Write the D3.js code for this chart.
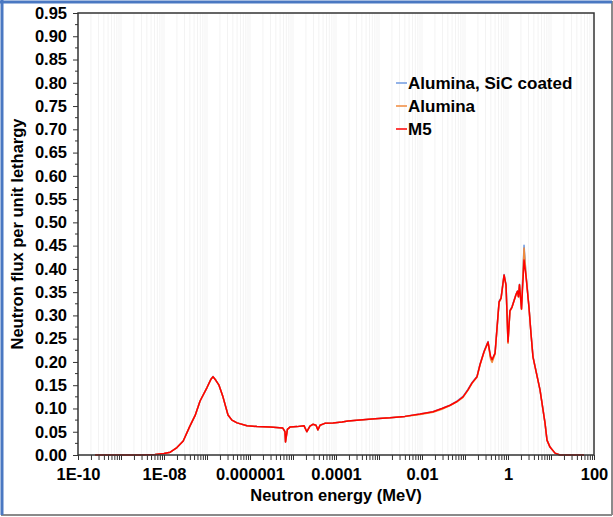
<!DOCTYPE html>
<html>
<head>
<meta charset="utf-8">
<script src="https://cdn.jsdelivr.net/npm/d3@7"></script>
<style>
  body { margin: 0; background: #fff; }
  text { font-family: "Liberation Sans", Arial, sans-serif; font-weight: bold; fill: #000; }
</style>
</head>
<body>
<svg id="chart"></svg>
<script>
// energies in MeV
const energy = [2.5e-10, 2.8e-9, 6.2e-9, 1e-8, 1.4e-8, 2.0e-8, 2.8e-8, 4.0e-8, 5.3e-8, 6.9e-8,
  1.0e-7, 1.24e-7, 1.38e-7, 1.62e-7, 1.9e-7, 2.35e-7, 3.08e-7, 3.8e-7, 5.0e-7, 8.5e-7,
  1.46e-6, 2.9e-6, 5.8e-6, 6.5e-6, 6.7e-6, 7.4e-6, 8.5e-6, 1.24e-5, 1.8e-5, 2.1e-5,
  2.48e-5, 2.9e-5, 3.43e-5, 3.8e-5, 4.25e-5, 5.5e-5, 8.5e-5, 1.38e-4, 1.9e-4, 3.6e-4,
  8.1e-4, 1.8e-3, 4.0e-3, 8.98e-3, 1.8e-2, 2.9e-2, 4.5e-2, 6.5e-2, 9.0e-2, 0.117,
  0.146, 0.19, 0.223, 0.277, 0.343, 0.393, 0.427, 0.50, 0.62, 0.69,
  0.81, 0.90, 1.0, 1.11, 1.24, 1.54, 1.66, 1.75, 1.85, 2.06,
  2.36, 2.62, 3.08, 3.43, 3.81, 4.25, 5.55, 7.25, 8.07, 9.48,
  12.4, 16.2, 58.5];

const aluminaSiC = [0, 0, 0.001, 0.003, 0.006, 0.016, 0.030, 0.062, 0.085, 0.116,
  0.145, 0.164, 0.169, 0.160, 0.150, 0.125, 0.086, 0.075, 0.069, 0.063,
  0.061, 0.060, 0.058, 0.050, 0.028, 0.055, 0.060, 0.061, 0.063, 0.050,
  0.062, 0.066, 0.064, 0.054, 0.064, 0.068, 0.069, 0.071, 0.073, 0.075,
  0.078, 0.080, 0.083, 0.088, 0.093, 0.100, 0.107, 0.116, 0.126, 0.141,
  0.156, 0.169, 0.195, 0.223, 0.244, 0.210, 0.203, 0.219, 0.330, 0.338,
  0.388, 0.366, 0.244, 0.311, 0.319, 0.346, 0.353, 0.341, 0.367, 0.315,
  0.451, 0.388, 0.318, 0.261, 0.212, 0.191, 0.140, 0.069, 0.032, 0.017,
  0.004, 0, 0];

const alumina = [0, 0, 0.001, 0.003, 0.006, 0.016, 0.030, 0.062, 0.085, 0.116,
  0.145, 0.163, 0.168, 0.160, 0.150, 0.125, 0.086, 0.075, 0.069, 0.063,
  0.061, 0.060, 0.058, 0.050, 0.028, 0.055, 0.060, 0.061, 0.063, 0.050,
  0.062, 0.066, 0.064, 0.054, 0.064, 0.068, 0.069, 0.071, 0.073, 0.075,
  0.078, 0.080, 0.083, 0.087, 0.092, 0.098, 0.106, 0.114, 0.124, 0.139,
  0.154, 0.167, 0.193, 0.221, 0.242, 0.206, 0.199, 0.217, 0.328, 0.336,
  0.386, 0.364, 0.240, 0.309, 0.317, 0.345, 0.352, 0.340, 0.366, 0.313,
  0.445, 0.387, 0.317, 0.260, 0.211, 0.190, 0.140, 0.069, 0.032, 0.017,
  0.004, 0, 0];

const m5 = [0, 0, 0.001, 0.003, 0.006, 0.016, 0.030, 0.062, 0.085, 0.116,
  0.145, 0.163, 0.168, 0.160, 0.150, 0.125, 0.086, 0.075, 0.069, 0.063,
  0.061, 0.060, 0.058, 0.050, 0.028, 0.055, 0.060, 0.061, 0.063, 0.050,
  0.062, 0.066, 0.064, 0.054, 0.064, 0.068, 0.069, 0.071, 0.073, 0.075,
  0.078, 0.080, 0.083, 0.088, 0.093, 0.100, 0.107, 0.115, 0.125, 0.140,
  0.155, 0.168, 0.194, 0.222, 0.243, 0.212, 0.205, 0.219, 0.329, 0.337,
  0.387, 0.365, 0.243, 0.310, 0.318, 0.345, 0.352, 0.340, 0.366, 0.314,
  0.419, 0.385, 0.316, 0.260, 0.211, 0.190, 0.140, 0.069, 0.032, 0.017,
  0.004, 0, 0];

const seriesNames = ["Alumina, SiC coated", "Alumina", "M5"];
const seriesColors = ["#6f9ae0", "#f08a3c", "#ff0000"];
const yTicks = [0, 0.05, 0.10, 0.15, 0.20, 0.25, 0.30, 0.35, 0.40, 0.45, 0.50, 0.55, 0.60, 0.65, 0.70, 0.75, 0.80, 0.85, 0.90, 0.95];
const xLabels = {"-10": "1E-10", "-8": "1E-08", "-6": "0.000001", "-4": "0.0001", "-2": "0.01", "0": "1", "2": "100"};

const W = 613, H = 517;
const margin = { top: 13, right: 19, bottom: 62, left: 78 };
const width = W - margin.left - margin.right;
const height = H - margin.top - margin.bottom;

const svg = d3.select("#chart").attr("width", W).attr("height", H);

// outer frame
svg.append("line").attr("x1", 612).attr("y1", 1).attr("x2", 612).attr("y2", 515)
  .attr("stroke", "#8a8a8a").attr("stroke-width", 2);
svg.append("line").attr("x1", 1).attr("y1", 515).attr("x2", 612).attr("y2", 515)
  .attr("stroke", "#8a8a8a").attr("stroke-width", 2);
svg.append("line").attr("x1", 2).attr("y1", 0).attr("x2", 2).attr("y2", 515)
  .attr("stroke", "#4a78c2").attr("stroke-width", 3);
svg.append("line").attr("x1", 0).attr("y1", 2).attr("x2", 612).attr("y2", 2)
  .attr("stroke", "#4a78c2").attr("stroke-width", 3);

const g = svg.append("g").attr("transform", `translate(${margin.left},${margin.top})`);

const x = d3.scaleLog().domain([1e-10, 100]).range([0, width]);
const y = d3.scaleLinear().domain([0, 0.95]).range([height, 0]);

// all log ticks
const logTicks = [];
for (let p = -10; p < 2; p++) {
  for (let k = 1; k <= 9; k++) logTicks.push(k * Math.pow(10, p));
}
logTicks.push(100);

// vertical gridlines (very faint)
g.append("g").selectAll("line").data(logTicks.slice(1, -1)).enter().append("line")
  .attr("x1", d => x(d)).attr("x2", d => x(d))
  .attr("y1", 0).attr("y2", height)
  .attr("stroke", "#f3f3f3").attr("stroke-width", 1);

// series lines
const line = d3.line().x((d, i) => x(energy[i])).y(d => y(d));
[aluminaSiC, alumina, m5].forEach((vals, i) => {
  g.append("path").datum(vals)
    .attr("fill", "none")
    .attr("stroke", seriesColors[i])
    .attr("stroke-width", 1.5)
    .attr("stroke-linejoin", "round")
    .attr("d", line);
});

// x axis
const xAxis = g.append("g").attr("transform", `translate(0,${height})`)
  .call(d3.axisBottom(x).tickValues(logTicks).tickSize(5)
    .tickFormat(d => {
      const p = Math.round(Math.log10(d));
      return Math.abs(d - Math.pow(10, p)) < 1e-11 * Math.pow(10, p) ? (xLabels[p] || "") : "";
    }));
xAxis.select(".domain").remove();
xAxis.selectAll(".tick line").attr("stroke", "#333");
xAxis.selectAll("text").attr("font-size", 16.5).attr("dy", "1.05em");

// y axis
const yAxis = g.append("g")
  .call(d3.axisLeft(y).tickValues(yTicks).tickSize(5).tickFormat(d3.format(".2f")));
yAxis.select(".domain").remove();
yAxis.selectAll(".tick line").attr("stroke", "#333");
yAxis.selectAll("text").attr("font-size", 16.5).attr("x", -11);

const minorY = yTicks.slice(0, -1).map(d => d + 0.025);
g.append("g").selectAll("line").data(minorY).enter().append("line")
  .attr("x1", -3).attr("x2", 0).attr("y1", d => y(d)).attr("y2", d => y(d))
  .attr("stroke", "#333");

// plot frame
g.append("rect").attr("width", width).attr("height", height)
  .attr("fill", "none").attr("stroke", "#333").attr("stroke-width", 1.5);

// legend
const legend = g.selectAll(".legend").data(seriesNames).enter().append("g")
  .attr("transform", (d, i) => `translate(318,${70 + i * 23})`);
legend.append("line").attr("x1", 0).attr("x2", 11)
  .attr("stroke", (d, i) => seriesColors[i]).attr("stroke-width", 1.5);
legend.append("text").attr("x", 12).attr("dy", "0.35em")
  .attr("font-size", 17).text(d => d);

// axis titles
svg.append("text").attr("x", margin.left + width / 2).attr("y", 501)
  .attr("text-anchor", "middle").attr("font-size", 16.5).text("Neutron energy (MeV)");
svg.append("text")
  .attr("transform", `translate(23,${margin.top + height / 2}) rotate(-90)`)
  .attr("text-anchor", "middle").attr("font-size", 16.5).text("Neutron flux per unit lethargy");
</script>
</body>
</html>
